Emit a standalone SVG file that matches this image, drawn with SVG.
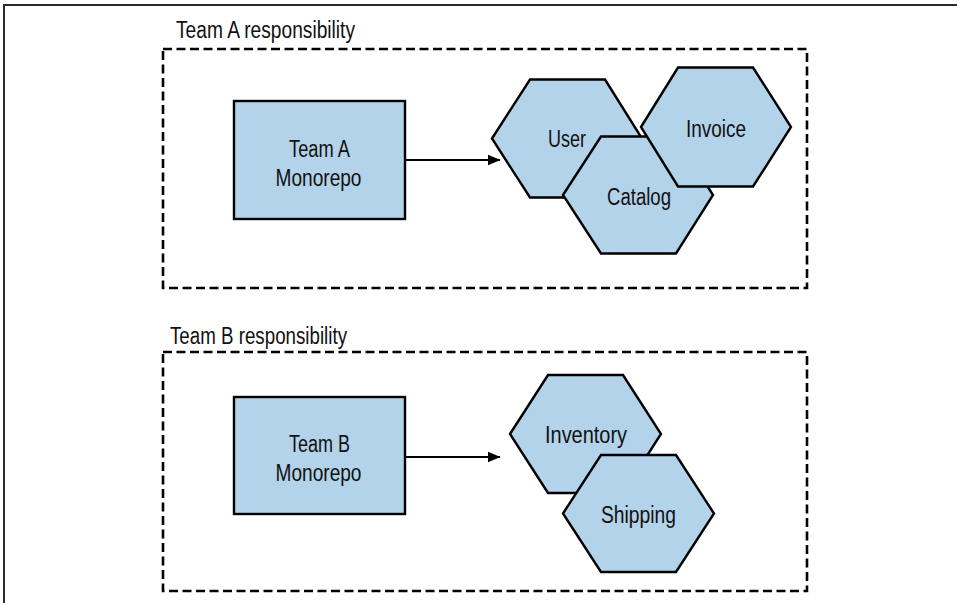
<svg xmlns="http://www.w3.org/2000/svg" width="957" height="603" viewBox="0 0 957 603">
<style>
.frame{fill:none;stroke:#2a2a2a;stroke-width:2}
.zone{fill:none;stroke:#000;stroke-width:2.6;stroke-dasharray:9 4.5}
.repo{fill:#b3d3ea;stroke:#000;stroke-width:2.4}
.hex{fill:#b3d3ea;stroke:#000;stroke-width:2.4;stroke-linejoin:miter}
text{font-family:"Liberation Sans",Arial,sans-serif;font-size:23px;fill:#111}
.c{text-anchor:middle}
.conn{stroke:#000;stroke-width:2.2;fill:none}
</style>
<defs>
<marker id="ah" markerWidth="13" markerHeight="13" viewBox="0 0 13 13" refX="12.5" refY="6.5" orient="auto" markerUnits="userSpaceOnUse">
<path d="M0,1 L13,6.5 L0,12 Z" fill="#000"/>
</marker>
</defs>
<path class="frame" d="M4,603 V5 H957"/>
<g id="zoneA">
<text x="176" y="38" textLength="179" lengthAdjust="spacingAndGlyphs">Team A responsibility</text>
<rect class="zone" x="163" y="49" width="644" height="239"/>
</g>
<g id="zoneB">
<text x="170" y="344" textLength="177" lengthAdjust="spacingAndGlyphs">Team B responsibility</text>
<rect class="zone" x="163" y="352" width="644" height="239"/>
</g>
<g id="connectors">
<line class="conn" x1="405" y1="160" x2="500" y2="160" marker-end="url(#ah)"/>
<line class="conn" x1="405" y1="457" x2="500" y2="457" marker-end="url(#ah)"/>
</g>
<g id="teamA-repo">
<rect class="repo" x="234" y="101" width="171" height="118"/>
<text class="c" x="319.5" y="156.5" textLength="61" lengthAdjust="spacingAndGlyphs">Team A</text>
<text class="c" x="318.5" y="185.5" textLength="86" lengthAdjust="spacingAndGlyphs">Monorepo</text>
</g>
<g id="user">
<polygon class="hex" points="492,138.5 530,79.5 605,79.5 642,138.5 605,197.5 530,197.5"/>
<text class="c" x="567" y="147" textLength="38" lengthAdjust="spacingAndGlyphs">User</text>
</g>
<g id="catalog">
<polygon class="hex" points="563,195 601,136.5 676,136.5 713,195 676,253.5 601,253.5"/>
<text class="c" x="639" y="205" textLength="64" lengthAdjust="spacingAndGlyphs">Catalog</text>
</g>
<g id="invoice">
<polygon class="hex" points="641,127 678,67.5 753,67.5 791,127 753,186.5 678,186.5"/>
<text class="c" x="716" y="137" textLength="60" lengthAdjust="spacingAndGlyphs">Invoice</text>
</g>
<g id="teamB-repo">
<rect class="repo" x="234" y="397" width="171" height="117"/>
<text class="c" x="319.5" y="452" textLength="61" lengthAdjust="spacingAndGlyphs">Team B</text>
<text class="c" x="318.5" y="481" textLength="86" lengthAdjust="spacingAndGlyphs">Monorepo</text>
</g>
<g id="inventory">
<polygon class="hex" points="510,434 548,375 623,375 661,434 623,493 548,493"/>
<text class="c" x="586" y="443" textLength="82" lengthAdjust="spacingAndGlyphs">Inventory</text>
</g>
<g id="shipping">
<polygon class="hex" points="563,513.5 601,455 676,455 714,513.5 676,572 601,572"/>
<text class="c" x="638.5" y="523" textLength="75" lengthAdjust="spacingAndGlyphs">Shipping</text>
</g>
</svg>
